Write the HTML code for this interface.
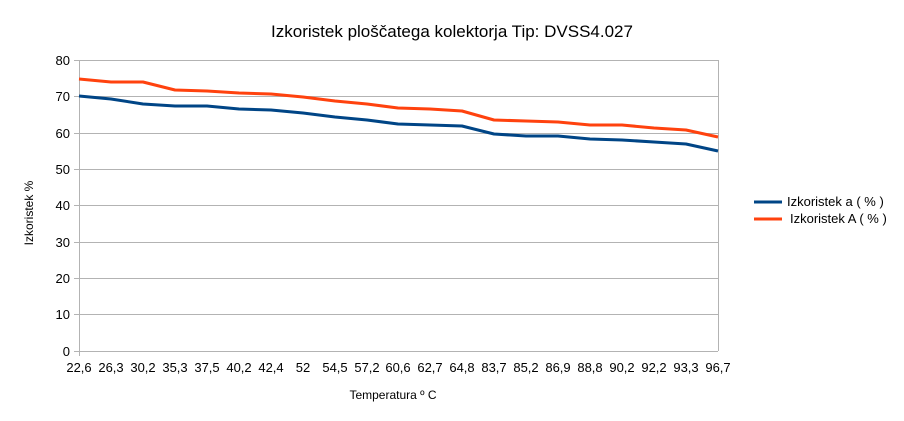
<!DOCTYPE html>
<html><head><meta charset="utf-8"><style>
body{margin:0;background:#fff}
svg{display:block;font-family:"Liberation Sans",sans-serif}
</style></head><body>
<svg width="904" height="421" viewBox="0 0 904 421" xmlns="http://www.w3.org/2000/svg">
<rect width="904" height="421" fill="#fff"/>
<text x="452" y="37" font-size="17" text-anchor="middle" fill="#000">Izkoristek ploščatega kolektorja Tip: DVSS4.027</text>
<g stroke="#b3b3b3" stroke-width="1">
<line x1="79" y1="60.5" x2="718" y2="60.5"/>
<line x1="79" y1="96.5" x2="718" y2="96.5"/>
<line x1="79" y1="133.5" x2="718" y2="133.5"/>
<line x1="79" y1="169.5" x2="718" y2="169.5"/>
<line x1="79" y1="205.5" x2="718" y2="205.5"/>
<line x1="79" y1="242.5" x2="718" y2="242.5"/>
<line x1="79" y1="278.5" x2="718" y2="278.5"/>
<line x1="79" y1="314.5" x2="718" y2="314.5"/>
<line x1="79" y1="351.5" x2="718" y2="351.5"/>
<line x1="79.5" y1="60" x2="79.5" y2="356"/>
<line x1="718.5" y1="60" x2="718.5" y2="351"/>
<line x1="74" y1="60.5" x2="79" y2="60.5"/><line x1="74" y1="96.5" x2="79" y2="96.5"/><line x1="74" y1="133.5" x2="79" y2="133.5"/><line x1="74" y1="169.5" x2="79" y2="169.5"/><line x1="74" y1="205.5" x2="79" y2="205.5"/><line x1="74" y1="242.5" x2="79" y2="242.5"/><line x1="74" y1="278.5" x2="79" y2="278.5"/><line x1="74" y1="314.5" x2="79" y2="314.5"/><line x1="74" y1="351.5" x2="79" y2="351.5"/>
</g>
<g font-size="13" text-anchor="end" fill="#000">
<text x="70" y="65">80</text><text x="70" y="101">70</text><text x="70" y="138">60</text><text x="70" y="174">50</text><text x="70" y="210">40</text><text x="70" y="247">30</text><text x="70" y="283">20</text><text x="70" y="319">10</text><text x="70" y="356">0</text>
</g>
<g font-size="13" text-anchor="middle" fill="#000">
<text x="79" y="372">22,6</text><text x="111" y="372">26,3</text><text x="143" y="372">30,2</text><text x="175" y="372">35,3</text><text x="207" y="372">37,5</text><text x="239" y="372">40,2</text><text x="271" y="372">42,4</text><text x="303" y="372">52</text><text x="335" y="372">54,5</text><text x="367" y="372">57,2</text><text x="398" y="372">60,6</text><text x="430" y="372">62,7</text><text x="462" y="372">64,8</text><text x="494" y="372">83,7</text><text x="526" y="372">85,2</text><text x="558" y="372">86,9</text><text x="590" y="372">88,8</text><text x="622" y="372">90,2</text><text x="654" y="372">92,2</text><text x="686" y="372">93,3</text><text x="718" y="372">96,7</text>
</g>
<text x="393" y="399" font-size="12" text-anchor="middle">Temperatura º C</text>
<text transform="translate(33,213) rotate(-90)" font-size="12" text-anchor="middle">Izkoristek %</text>
<polyline fill="none" stroke="#004586" stroke-width="3" stroke-linejoin="round" points="79,96 111,99 143,104 175,106 207,106 239,109 271,110 303,113 335,117 367,120 398,124 430,125 462,126 494,134 526,136 558,136 590,139 622,140 654,142 686,144 718,151"/>
<polyline fill="none" stroke="#ff420e" stroke-width="3" stroke-linejoin="round" points="79,79 111,82 143,82 175,90 207,91 239,93 271,94 303,97 335,101 367,104 398,108 430,109 462,111 494,120 526,121 558,122 590,125 622,125 654,128 686,130 718,137"/>
<line x1="754" y1="202" x2="782" y2="202" stroke="#004586" stroke-width="3"/>
<text x="787" y="206" font-size="13">Izkoristek a ( % )</text>
<line x1="754" y1="219" x2="782" y2="219" stroke="#ff420e" stroke-width="3"/>
<text x="790" y="223" font-size="13">Izkoristek A ( % )</text>
</svg>
</body></html>
